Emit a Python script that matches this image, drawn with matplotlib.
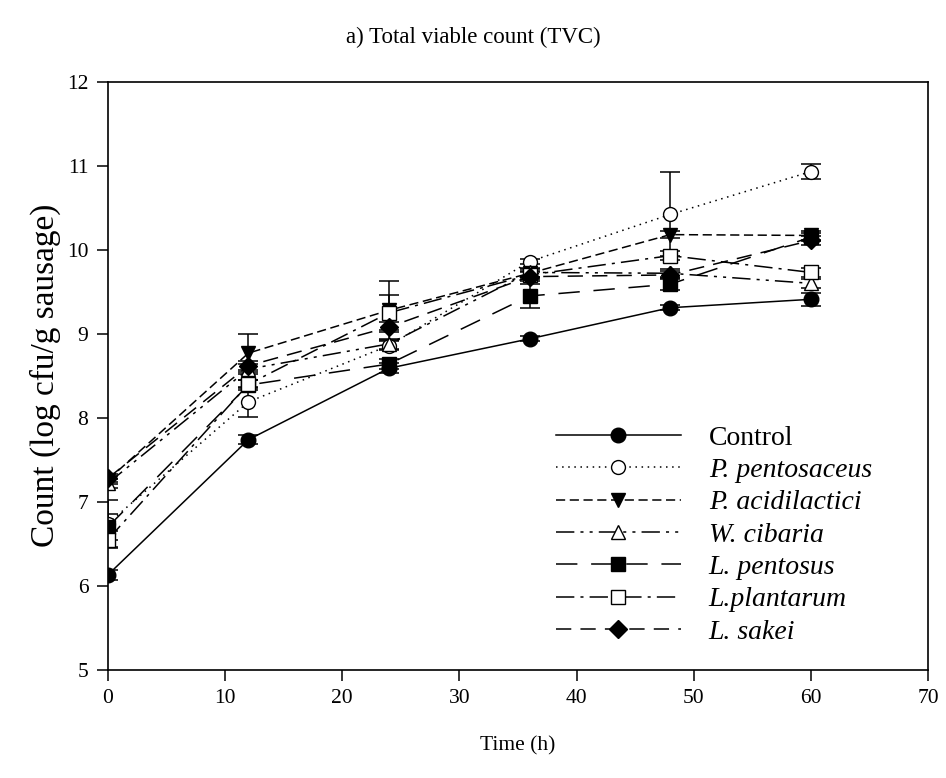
import matplotlib
matplotlib.use("Agg")
import matplotlib.pyplot as plt

plt.rcParams['font.family'] = ['Liberation Serif', 'DejaVu Serif']

# sampling times (h)
time_h = [0, 12, 24, 36, 48, 60]

# mean counts, log cfu/g sausage
control = [6.13, 7.74, 8.59, 8.94, 9.31, 9.41]
p_pentosaceus = [6.74, 8.19, 8.86, 9.86, 10.42, 10.93]
p_acidilactici = [7.26, 8.77, 9.28, 9.72, 10.18, 10.17]
w_cibaria = [7.22, 8.58, 8.88, 9.73, 9.72, 9.60]
l_pentosus = [6.70, 8.39, 8.64, 9.45, 9.59, 10.15]
l_plantarum = [6.55, 8.40, 9.25, 9.70, 9.93, 9.73]
l_sakei = [7.28, 8.62, 9.08, 9.68, 9.70, 10.11]

# standard deviations
control_sd = [0.06, 0.05, 0.06, 0.03, 0.03, 0.08]
p_pentosaceus_sd = [0.28, 0.18, 0.05, 0.03, 0.50, 0.09]
p_acidilactici_sd = [0.05, 0.23, 0.35, 0.05, 0.04, 0.05]
w_cibaria_sd = [0.05, 0.06, 0.06, 0.05, 0.05, 0.05]
l_pentosus_sd = [0.16, 0.06, 0.06, 0.14, 0.07, 0.05]
l_plantarum_sd = [0.10, 0.05, 0.21, 0.05, 0.05, 0.05]
l_sakei_sd = [0.05, 0.05, 0.06, 0.05, 0.05, 0.05]

labels = ['Control', 'P. pentosaceus', 'P. acidilactici', 'W. cibaria',
          'L. pentosus', 'L.plantarum', 'L. sakei']
means = [control, p_pentosaceus, p_acidilactici, w_cibaria,
         l_pentosus, l_plantarum, l_sakei]
sds = [control_sd, p_pentosaceus_sd, p_acidilactici_sd, w_cibaria_sd,
       l_pentosus_sd, l_plantarum_sd, l_sakei_sd]

markers = ['o', 'o', 'v', '^', 's', 's', 'D']
faces = ['black', 'white', 'black', 'white', 'black', 'white', 'black']
styles = ['-', (0, (1, 3)), (0, (6, 3)), (0, (12, 4, 2, 4, 2, 4)),
          (0, (14, 9)), (0, (12, 4, 2, 4)), (0, (10, 6))]
sizes = [10.5, 10, 10.5, 10.5, 10, 10, 9.5]

fig = plt.figure(figsize=(9.46, 7.78), dpi=100)
ax = fig.add_axes([0.114, 0.139, 0.867, 0.756])

handles = []
for y, e, lab, m, fc, ls, ms in zip(means, sds, labels, markers, faces, styles, sizes):
    c = ax.errorbar(time_h, y, yerr=e, color='black', marker=m,
                    markerfacecolor=fc, markeredgecolor='black', markersize=ms,
                    linestyle=ls, linewidth=1.1, elinewidth=1.1, capsize=7,
                    capthick=1.1)
    handles.append(c[0])

ax.set_xlim(0, 70)
ax.set_ylim(5, 12)
ax.set_xticks(range(0, 71, 10))
ax.set_yticks(range(5, 13))
ax.tick_params(direction='out', length=8, width=1.1, labelsize=15.5, pad=6)
for s in ax.spines.values():
    s.set_linewidth(1.2)

ax.set_xlabel('Time (h)', fontsize=15.5, labelpad=20)
ax.set_ylabel('Count (log cfu/g sausage)', fontsize=24, labelpad=4)
fig.text(0.5, 0.952, 'a) Total viable count (TVC)', ha='center', va='center',
         fontsize=16.5)

leg = ax.legend(handles, labels, loc='lower right', bbox_to_anchor=(0.962, 0.0),
                frameon=False, fontsize=20, handlelength=4.5, handletextpad=1.0,
                labelspacing=0.25)
for t in leg.get_texts()[1:]:
    t.set_fontstyle('italic')

fig.savefig('out.png', dpi=100)
